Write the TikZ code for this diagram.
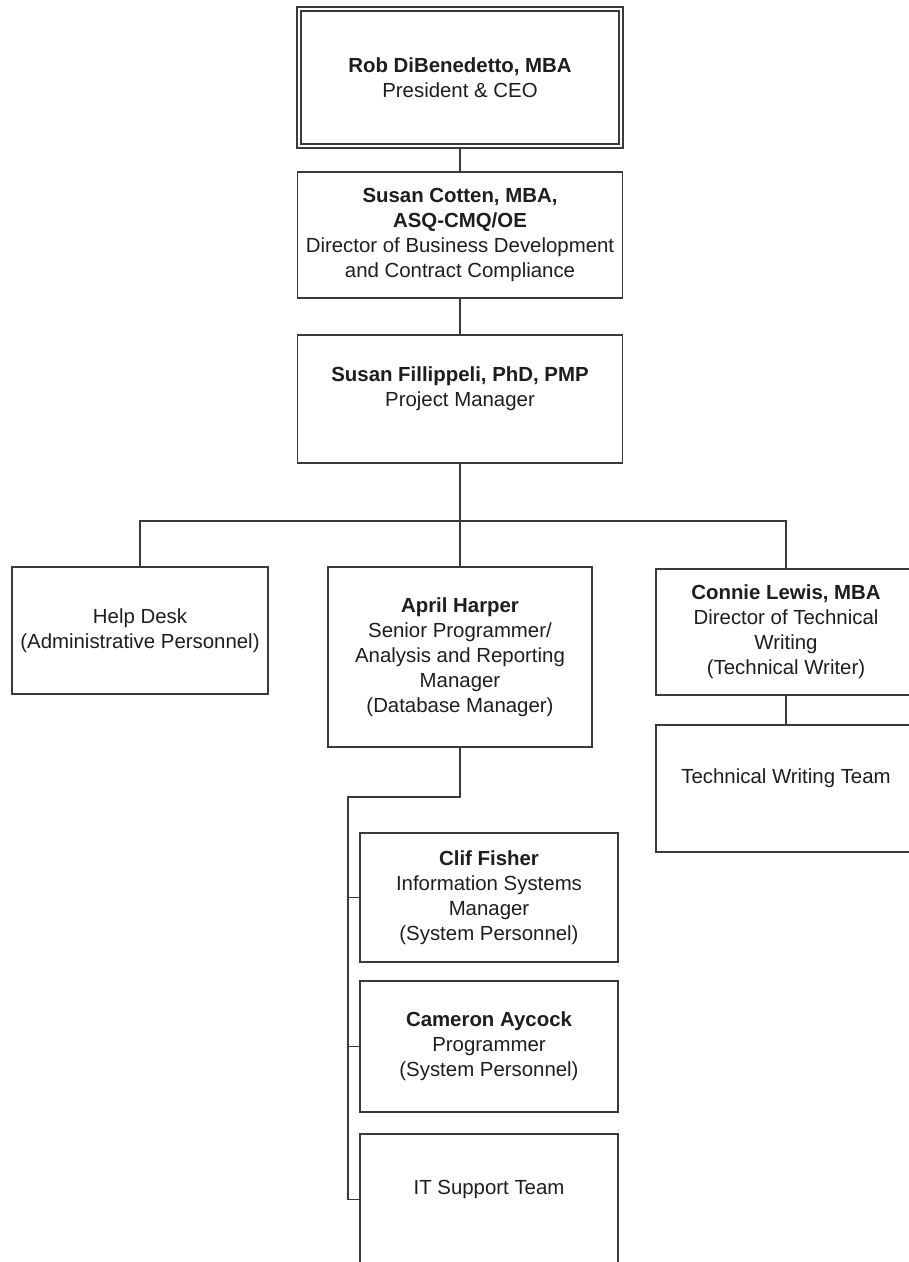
\documentclass[tikz,border=0pt]{standalone}
\usepackage{fontspec}
\setmainfont{Liberation Sans}
\definecolor{linec}{HTML}{3A3A3A}
\definecolor{txtc}{HTML}{1E1E1E}
\tikzset{
  box/.style={draw=linec, line width=1.1pt, fill=white, rectangle, inner sep=0pt, align=center,
    text=txtc, font=\fontsize{15.3pt}{18.75pt}\selectfont},
  topbox/.style={box, double=white, double distance=1.6pt, line width=1.3pt},
  conn/.style={draw=linec, line width=1.1pt},
}
\begin{document}
\begin{tikzpicture}[x=0.75pt,y=-0.75pt]
\useasboundingbox (0,0) rectangle (909,1262);
\clip (0,0) rectangle (909,1262);
\fill[white] (0,0) rectangle (909,1262);
% top
\node[topbox, minimum width=241.5pt, minimum height=102.75pt] (rob) at (460,77.5)
  {\textbf{Rob DiBenedetto, MBA}\\President \& CEO};
\node[box, minimum width=243.75pt, minimum height=94.5pt] (cotten) at (460,235)
  {\textbf{Susan Cotten, MBA,}\\\textbf{ASQ-CMQ/OE}\\Director of Business Development\\and Contract Compliance};
\node[box, minimum width=243.75pt, minimum height=96pt] (fill) at (460,399)
  {\textbf{Susan Fillippeli, PhD, PMP}\\Project Manager\\\mbox{}};
% second level
\node[box, minimum width=192pt, minimum height=95.25pt] (help) at (140,630.5)
  {Help Desk\\(Administrative Personnel)};
\node[box, minimum width=198pt, minimum height=135pt] (april) at (460,657)
  {\textbf{April Harper}\\Senior Programmer/\\Analysis and Reporting\\Manager\\(Database Manager)};
\node[box, minimum width=195pt, minimum height=94.5pt] (connie) at (786,632)
  {\textbf{Connie Lewis, MBA}\\Director of Technical\\Writing\\(Technical Writer)};
\node[box, minimum width=195pt, minimum height=95.25pt] (tw) at (786,788.5)
  {Technical Writing Team\\\mbox{}};
% april's reports
\node[box, minimum width=193.5pt, minimum height=96.75pt] (clif) at (489,897.5)
  {\textbf{Clif Fisher}\\Information Systems\\Manager\\(System Personnel)};
\node[box, minimum width=193.5pt, minimum height=98.25pt] (cam) at (489,1046.5)
  {\textbf{Cameron Aycock}\\Programmer\\(System Personnel)};
\node[box, minimum width=193.5pt, minimum height=98.25pt] (it) at (489,1199.5)
  {IT Support Team\\\mbox{}};
% connectors
\coordinate (bar) at (460,521);
\coordinate (spine) at (348,797);
\draw[conn, line width=1.7pt] (rob.south) -- (cotten.north);
\draw[conn] (cotten.south) -- (fill.north);
\draw[conn] (fill.south) -- (april.north);
\draw[conn] (help.north) |- (bar) -| (connie.north);
\draw[conn] (connie.south) -- (tw.north);
\draw[conn] (april.south) |- (spine) |- (it.west);
\draw[conn, line width=1.3pt] (spine |- clif.west) -- (clif.west);
\draw[conn, line width=1.3pt] (spine |- cam.west) -- (cam.west);
\end{tikzpicture}
\end{document}
